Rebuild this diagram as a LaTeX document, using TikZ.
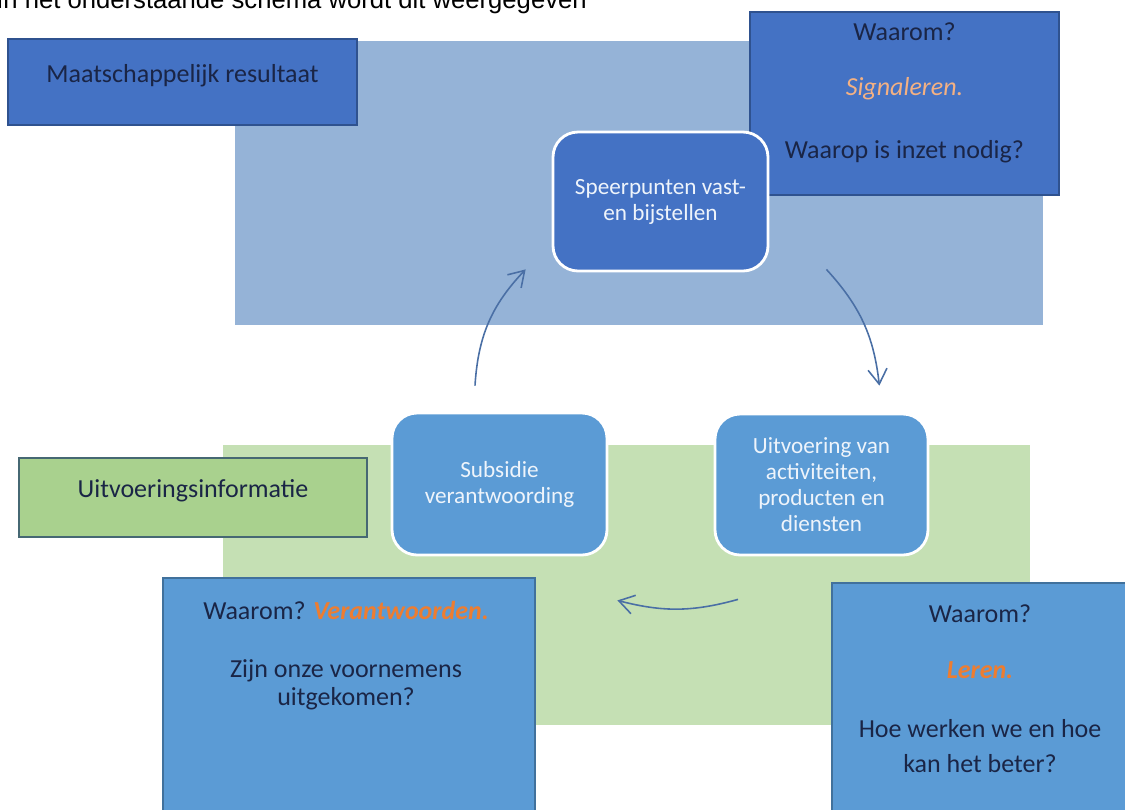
\documentclass[tikz,border=0pt]{standalone}
\usepackage{fontspec}
\setmainfont{Carlito}
\newfontfamily\introfont{Liberation Sans}
\usetikzlibrary{arrows.meta}
\definecolor{areablue}{HTML}{95B3D7}
\definecolor{areagreen}{HTML}{C5E0B4}
\definecolor{deepblue}{HTML}{4472C4}
\definecolor{deepline}{HTML}{2F528F}
\definecolor{midblue}{HTML}{5B9BD5}
\definecolor{midline}{HTML}{41719C}
\definecolor{leaf}{HTML}{A9D18E}
\definecolor{leafline}{HTML}{466873}
\definecolor{ink}{HTML}{1A2546}
\definecolor{chalk}{HTML}{EEF4FB}
\definecolor{salmon}{HTML}{F4B183}
\definecolor{accent}{HTML}{ED7D31}
\definecolor{flow}{HTML}{4A6FA5}
\newcommand\whyfont{\fontsize{14.8}{17}\selectfont}
\newcommand\stepfont{\fontsize{13.2}{14.8}\selectfont}

\begin{document}
\begin{tikzpicture}[x=0.02cm, y=-0.02cm,
    area/.style={inner sep=0pt},
    tag/.style={draw, line width=1.6pt, inner sep=0pt, text=ink, font=\whyfont,
      text height=0.3cm, text depth=0.3cm},
    stepbox/.style={draw=white, line width=1.6pt, rounded corners=0.5cm,
      fill=midblue, minimum width=4.3cm, minimum height=2.82cm, inner sep=0pt,
      align=center, text=chalk, font=\stepfont},
    why/.style={draw, line width=1.6pt, inner sep=0pt},
    line/.style={anchor=base, inner sep=0pt, text=ink, font=\whyfont}]
  \useasboundingbox (0,0) rectangle (1125,809);
  \clip (0,0) rectangle (1125,809);
  \node[anchor=base west, inner sep=0pt, font=\introfont\fontsize{14.6}{17}\selectfont]
    (intro) at (-4,8) {In het onderstaande schema wordt dit weergegeven};
  \draw
    (639,183) node[area, fill=areablue, minimum width=16.16cm, minimum height=5.68cm] (top){}
    (626.5,585) node[area, fill=areagreen, minimum width=16.14cm, minimum height=5.6cm] (bottom){}
    (182.5,82) node[tag, fill=deepblue, draw=deepline, minimum width=6.98cm, minimum height=1.72cm] (result){Maatschappelijk resultaat}
    (193,497.5) node[tag, fill=leaf, draw=leafline, minimum width=6.96cm, minimum height=1.58cm] (info){Uitvoeringsinformatie}
    (904.5,103.5) node[why, fill=deepblue, draw=deepline, minimum width=6.18cm, minimum height=3.66cm] (signal){}
    (660.5,201.5) node[stepbox, fill=deepblue, minimum height=2.78cm] (focus){Speerpunten vast-\\en bijstellen}
    (499.5,484) node[stepbox, minimum height=2.84cm] (grant){Subsidie\\verantwoording}
    (821.5,484.5) node[stepbox, minimum width=4.26cm] (work){Uitvoering van\\activiteiten,\\producten en\\diensten}
    (349,709) node[why, fill=midblue, draw=midline, minimum width=7.44cm, minimum height=5.24cm] (account){}
    (980,711.5) node[why, fill=midblue, draw=midline, minimum width=5.92cm, minimum height=5.14cm] (learn){};
  \node[line] (signal1) at (904.5,40) {Waarom?};
  \node[line, text=salmon] (signal2) at (904.5,95) {\textit{Signaleren.}};
  \node[line] (signal3) at (904.5,158) {Waarop is inzet nodig?};
  \node[line] (account1) at (346,619) {Waarom? \textcolor{accent}{\textbf{\textit{Verantwoorden.}}}};
  \node[line] (account2) at (346,677) {Zijn onze voornemens};
  \node[line] (account3) at (346,705) {uitgekomen?};
  \node[line] (learn1) at (980,622) {Waarom?};
  \node[line, text=accent] (learn2) at (980,678) {\textbf{\textit{Leren.}}};
  \node[line] (learn3) at (980,737) {Hoe werken we en hoe};
  \node[line] (learn4) at (980,772) {kan het beter?};
  \begin{scope}[-{Straight Barb[length=0.3cm, width=0.38cm]}, draw=flow, line width=0.9pt]
    \draw ([shift={(57,-3)}]focus.south east) to[bend left=18] ([shift={(-50,-27)}]work.north east);
    \draw ([shift={(-83.5,43)}]work.south) to[bend left=15] ([shift={(9,44)}]grant.south east);
    \draw ([shift={(-24.5,-26)}]grant.north) to[bend left=20] ([shift={(-26,-3)}]focus.south west);
  \end{scope}
\end{tikzpicture}
\end{document}
